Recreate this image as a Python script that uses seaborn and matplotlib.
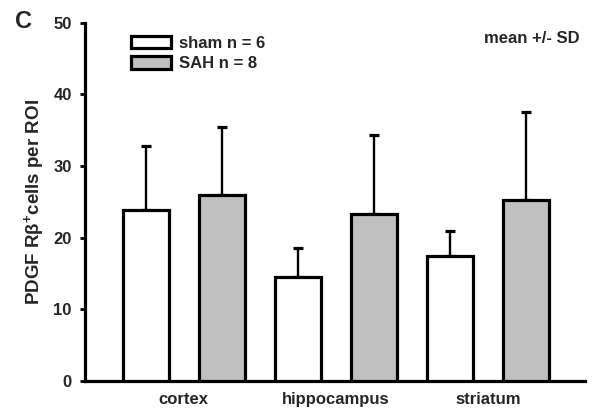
import matplotlib
matplotlib.use("Agg")
import matplotlib.pyplot as plt
import seaborn as sns
import pandas as pd

# Group summary statistics (cells per ROI)
regions = ["cortex", "hippocampus", "striatum"]
groups = ["sham n = 6", "SAH n = 8"]
sham_mean = [23.8, 14.5, 17.5]
sham_sd = [9.0, 4.0, 3.4]
sah_mean = [25.9, 23.3, 25.2]
sah_sd = [9.5, 11.0, 12.3]
yticks = [0, 10, 20, 30, 40, 50]

sns.set_theme(style="ticks")
plt.rcParams["font.family"] = ["Liberation Sans", "DejaVu Sans"]
plt.rcParams["font.weight"] = "bold"
plt.rcParams["mathtext.fontset"] = "custom"
plt.rcParams["mathtext.rm"] = "Liberation Sans:bold"
plt.rcParams["mathtext.bf"] = "Liberation Sans:bold"
plt.rcParams["mathtext.default"] = "bf"

df = pd.DataFrame({
    "region": regions * 2,
    "group": [groups[0]] * 3 + [groups[1]] * 3,
    "mean": sham_mean + sah_mean,
    "sd": sham_sd + sah_sd,
})

fig = plt.figure(figsize=(5.94, 4.12), dpi=100)
ax = fig.add_axes([0.143, 0.075, 0.842, 0.870])

sns.barplot(data=df, x="region", y="mean", hue="group", order=regions,
            hue_order=groups, palette=["white", "#c0c0c0"], errorbar=None,
            width=1.0, gap=0.4, edgecolor="black", linewidth=2.3,
            saturation=1, ax=ax, zorder=3)

# Upper-only SD whiskers on top of each bar
for cont, g in zip(ax.containers, groups):
    sub = df[df["group"] == g].set_index("region").loc[regions]
    xs = [b.get_x() + b.get_width() / 2 for b in cont]
    ax.errorbar(xs, sub["mean"], yerr=[[0] * len(xs), sub["sd"]], fmt="none",
                ecolor="black", elinewidth=1.7, capsize=3.4, capthick=2.3,
                zorder=2)

ax.set_ylim(0, 50)
ax.set_xlim(-0.65, 2.64)
ax.set_yticks(yticks)
ax.set_yticklabels([str(t) for t in yticks], fontsize=12, fontweight="bold")
ax.set_xticklabels(regions, fontsize=12, fontweight="bold")
ax.tick_params(axis="y", length=3.5, width=2, pad=6, color="black")
ax.tick_params(axis="x", length=0, pad=8)
ax.set_xlabel("")
ax.set_ylabel(r"PDGF R$\beta^{+}$cells per ROI", fontsize=13.5,
              fontweight="bold", labelpad=5)
sns.despine(ax=ax)
for s in ("left", "bottom"):
    ax.spines[s].set_linewidth(2.3)
    ax.spines[s].set_color("black")

handles, labels = ax.get_legend_handles_labels()
ax.legend(handles, labels, loc="upper left", bbox_to_anchor=(0.078, 0.982),
          frameon=False, fontsize=12, handlelength=2.4, handleheight=0.78,
          handletextpad=0.48, labelspacing=0.32, borderaxespad=0)

ax.text(0.99, 0.957, "mean +/- SD", transform=ax.transAxes, ha="right",
        va="center", fontsize=12, fontweight="bold")
fig.text(15 / 594, 1 - 21 / 412, "C", ha="left", va="center", fontsize=17,
         fontweight="bold")

fig.savefig("out.png", dpi=100)
